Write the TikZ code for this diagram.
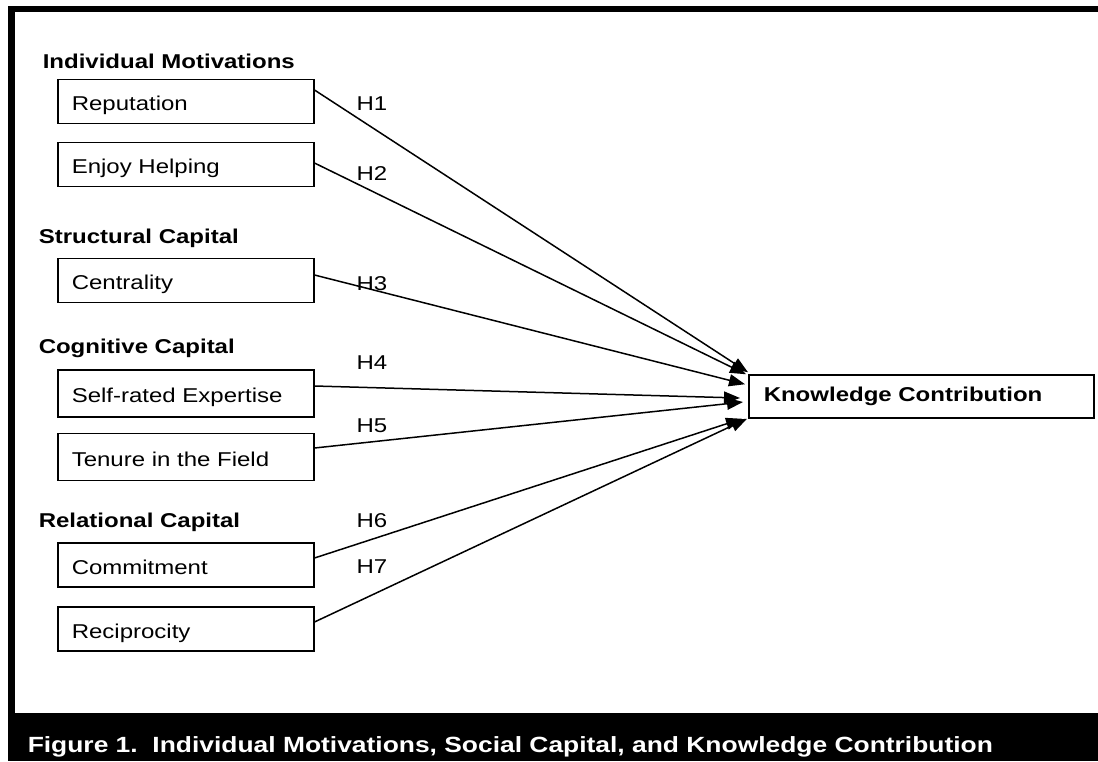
\documentclass[tikz,border=0pt]{standalone}
\usepackage{fontspec}
\setmainfont{Liberation Sans}[FakeStretch=1.2]
\usetikzlibrary{arrows.meta}

\begin{document}
\begin{tikzpicture}[x=1pt, y=-1pt,
            line width=1.5pt,
            factor/.style={draw, anchor=west, minimum height=44pt, inner xsep=14pt,
                text width=228pt, text height=22pt, text depth=4pt, align=left,
                font=\fontsize{20}{23}\selectfont},
            group/.style={anchor=base west, inner sep=0pt, font=\fontsize{20}{24}\selectfont\bfseries},
            hyp/.style={anchor=base, inner sep=0pt, font=\fontsize{20}{23}\selectfont},
            link/.style={-{Triangle[length=16pt,width=12pt]}},
            ]
            \useasboundingbox (0,0) rectangle (1098,761);

            % frame and caption band
            \fill (8,6) rectangle (1098,12);
            \fill (8,6) rectangle (15,713);
            \fill (8,713) rectangle (1098,761);
            \node[anchor=base west, text=white, inner sep=0pt,
                font=\fontsize{22}{26}\selectfont\bfseries] (caption) at (27,752)
                {Figure 1.\ \ Individual Motivations, Social Capital, and Knowledge Contribution};

            % construct groups
            \node[group] (gInd) at (42,68) {Individual Motivations};
            \node[group] (gStr) at (38,243) {Structural Capital};
            \node[group] (gCog) at (38,353) {Cognitive Capital};
            \node[group] (gRel) at (38,527) {Relational Capital};

            % factors
            \node[factor] (rep) at (57,101.5) {Reputation};
            \node[factor] (enjoy) at (57,164.5) {Enjoy Helping};
            \node[factor] (central) at (57,280.5) {Centrality};
            \node[factor, minimum height=47pt] (expert) at (57,393.5) {Self-rated Expertise};
            \node[factor, minimum height=47pt] (tenure) at (57,457) {Tenure in the Field};
            \node[factor] (commit) at (57,565) {Commitment};
            \node[factor] (recip) at (57,629) {Reciprocity};

            % outcome
            \node[draw, anchor=west, minimum height=43pt, inner xsep=15pt, text width=315pt,
                align=left, font=\fontsize{20}{24}\selectfont\bfseries] (know) at (748,396.5)
                {Knowledge Contribution};

            % hypotheses
            \draw[link] ([yshift=11.5pt]rep.east) -- ([yshift=2pt]know.north west);
            \draw[link] ([yshift=1.5pt]enjoy.east) -- ([xshift=-2pt]know.north west);
            \draw[link] ([yshift=5.5pt]central.east) -- ([xshift=-3pt,yshift=-10pt]know.north west);
            \draw[link] ([yshift=7.5pt]expert.east) -- ([xshift=-8pt,yshift=-1.5pt]know.west);
            \draw[link] ([yshift=9pt]tenure.east) -- ([xshift=-5pt,yshift=-5.5pt]know.west);
            \draw[link] ([yshift=7pt]commit.east) -- ([xshift=-6pt]know.south west);
            \draw[link] ([yshift=7pt]recip.east) -- ([xshift=-1pt]know.south west);

            \node[hyp] (h1) at (372,110) {H1};
            \node[hyp] (h2) at (372,180) {H2};
            \node[hyp] (h3) at (372,290) {H3};
            \node[hyp] (h4) at (372,369) {H4};
            \node[hyp] (h5) at (372,432) {H5};
            \node[hyp] (h6) at (372,527) {H6};
            \node[hyp] (h7) at (372,573) {H7};
        \end{tikzpicture}
\end{document}
